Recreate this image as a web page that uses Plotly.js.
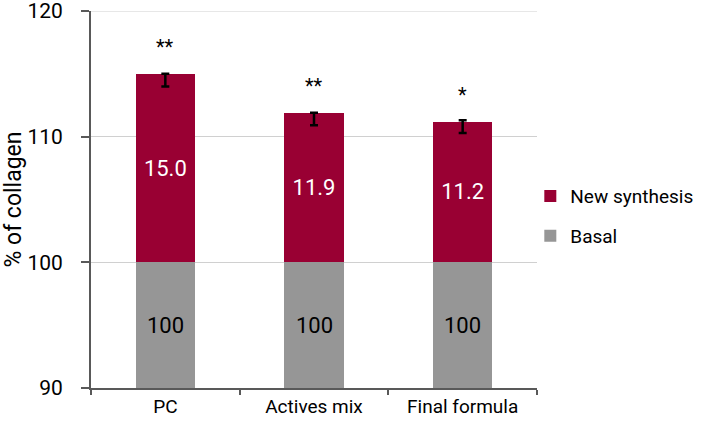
<!DOCTYPE html>
<html>
<head>
<meta charset="utf-8">
<script src="https://cdn.plot.ly/plotly-3.0.1.min.js"></script>
<style>html,body{margin:0;padding:0;background:#fff;}#chart{width:709px;height:426px;}</style>
</head>
<body>
<div id="chart"></div>
<script>
const categories = ["PC", "Actives mix", "Final formula"];
const basal = [100, 100, 100];
const newSynthesis = [15.0, 11.9, 11.2];
const errCenter = [114.5, 111.4, 110.8];
const errSize = [0.5, 0.5, 0.5];
const significance = ["**", "**", "*"];
const yTicks = [90, 100, 110, 120];
const yRange = [90, 120];

const font = "Roboto, 'DejaVu Sans', sans-serif";
const red = "#990033";
const gray = "#969696";
const gridColor = "#d0d0d0";

const traces = [
  {
    type: "bar", name: "Basal", x: categories, y: basal,
    marker: {color: gray}, textposition: "none",
    legendgroup: "b", legendrank: 2, hoverinfo: "skip"
  },
  {
    type: "bar", name: "New synthesis", x: categories, y: newSynthesis,
    marker: {color: red},
    text: newSynthesis.map(v => v.toFixed(1)), textposition: "inside", insidetextanchor: "middle",
    textfont: {color: "#fff", size: 22, family: font},
    legendgroup: "n", legendrank: 1, hoverinfo: "skip"
  },
  {
    type: "scatter", mode: "markers", x: categories, y: errCenter,
    marker: {size: 0.1, color: "rgba(0,0,0,0)"},
    error_y: {type: "data", array: errSize, visible: true, color: "#000", thickness: 2.5, width: 4},
    showlegend: false, hoverinfo: "skip"
  }
];

const sigAnn = categories.map((c, i) => ({
  x: c, y: basal[i] + newSynthesis[i], xref: "x", yref: "y",
  text: significance[i], showarrow: false, yanchor: "bottom", yshift: 13,
  font: {size: 20, color: "#000", family: font}
}));
const basalAnn = categories.map((c, i) => ({
  x: c, y: (yRange[0] + basal[i]) / 2, xref: "x", yref: "y",
  text: String(basal[i]), showarrow: false, yanchor: "middle",
  font: {size: 22, color: "#000", family: font}
}));

const layout = {
  width: 709, height: 426,
  margin: {l: 91, r: 172, t: 11, b: 38},
  paper_bgcolor: "#fff", plot_bgcolor: "#fff",
  barmode: "stack", bargap: 0.6,
  font: {family: font, color: "#000"},
  xaxis: {
    type: "category", tickson: "boundaries", ticks: "outside", ticklen: 5, tickwidth: 2,
    tickcolor: "#595959", showline: true, linecolor: "#595959", linewidth: 2,
    tickfont: {size: 19, family: font, color: "#000"}, showgrid: false, zeroline: false
  },
  yaxis: {
    range: yRange, tickvals: yTicks, ticks: "outside", ticklen: 8, tickwidth: 2,
    tickcolor: "#595959", showline: true, linecolor: "#595959", linewidth: 2,
    showgrid: true, gridcolor: gridColor, gridwidth: 1, zeroline: false,
    ticklabelstandoff: 14, ticklabeloverflow: "allow",
    tickfont: {size: 21, family: font, color: "#000"},
    title: {text: "% of collagen", font: {size: 23, family: font, color: "#000"}, standoff: 12}
  },
  shapes: [{
    type: "line", layer: "below", xref: "paper", yref: "y",
    x0: 0, x1: 1, y0: yTicks[yTicks.length - 1], y1: yTicks[yTicks.length - 1],
    line: {color: gridColor, width: 1}
  }],
  legend: {
    x: 0.985, xanchor: "left", y: 0.456, yanchor: "middle",
    traceorder: "grouped", tracegroupgap: 12,
    font: {size: 19, family: font, color: "#000"}
  },
  annotations: sigAnn.concat(basalAnn),
  showlegend: true
};

Plotly.newPlot("chart", traces, layout, {displayModeBar: false, staticPlot: true});
</script>
</body>
</html>
